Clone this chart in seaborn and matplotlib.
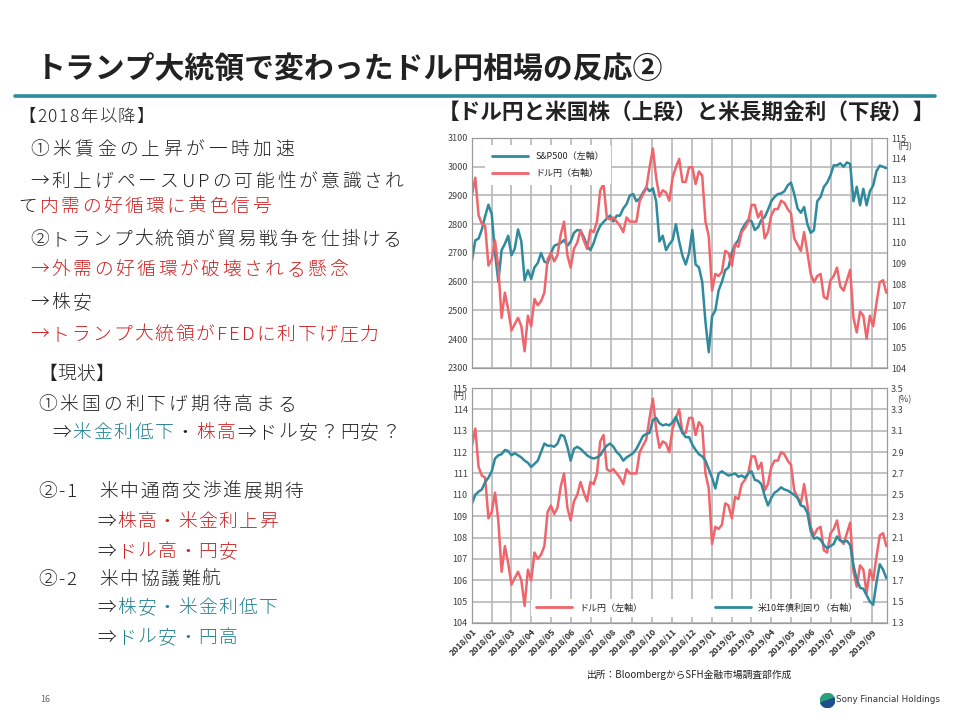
import matplotlib
matplotlib.use('Agg')
import matplotlib.pyplot as plt
from matplotlib.lines import Line2D
from matplotlib.patches import Wedge
import pandas as pd
import seaborn as sns

# --- data (one value every 5 days from 2018/01/01) ---
usdjpy = [
    112.3, 113.1, 111.3, 110.9, 110.8, 108.9, 109.2, 110.1, 108.8, 106.4,
    107.6, 106.8, 105.8, 106.1, 106.4, 106.0, 104.8, 106.5, 106.0, 107.3,
    107.0, 107.2, 107.6, 109.2, 109.5, 109.1, 109.4, 110.4, 111.0, 109.4,
    108.8, 109.7, 110.0, 110.6, 110.1, 109.7, 110.6, 110.5, 111.0, 112.5,
    112.8, 111.2, 111.1, 111.2, 111.0, 110.8, 110.5, 111.2, 111.0, 111.0,
    111.0, 112.0, 112.3, 112.6, 113.6, 114.5, 113.1, 112.2, 112.5, 112.4,
    112.0, 113.1, 113.6, 114.0, 112.9, 112.9, 113.6, 113.6, 112.8, 113.4,
    113.2, 111.0, 110.3, 107.7, 108.5, 108.4, 108.6, 109.6, 109.5, 108.9,
    109.9, 109.8, 110.5, 110.7, 111.0, 111.8, 111.8, 111.2, 111.5, 110.2,
    110.5, 111.3, 111.6, 111.6, 112.0, 111.9, 111.6, 111.4, 110.2, 109.9,
    109.6, 110.5, 109.5, 108.5, 108.1, 108.4, 108.5, 107.4, 107.3, 108.2,
    108.4, 108.8, 107.9, 107.7, 108.2, 108.7, 106.4, 105.7, 106.7, 106.5,
    105.4, 106.5, 106.0, 107.1, 108.1, 108.2, 107.6]

us10y = [
    2.42, 2.50, 2.53, 2.55, 2.62, 2.66, 2.72, 2.84, 2.87, 2.88,
    2.92, 2.91, 2.87, 2.89, 2.87, 2.85, 2.82, 2.80, 2.76, 2.79,
    2.82, 2.90, 2.98, 2.96, 2.96, 2.95, 2.98, 3.06, 3.05, 2.95,
    2.82, 2.93, 2.95, 2.93, 2.90, 2.87, 2.85, 2.84, 2.85, 2.87,
    2.92, 2.96, 2.98, 2.95, 2.90, 2.87, 2.82, 2.85, 2.87, 2.89,
    2.93, 2.99, 3.05, 3.07, 3.08, 3.20, 3.22, 3.17, 3.15, 3.16,
    3.15, 3.18, 3.23, 3.15, 3.08, 3.04, 3.04, 2.97, 2.92, 2.88,
    2.86, 2.82, 2.74, 2.66, 2.56, 2.70, 2.72, 2.70, 2.68, 2.69,
    2.70, 2.67, 2.68, 2.66, 2.70, 2.72, 2.64, 2.63, 2.60, 2.49,
    2.40, 2.47, 2.52, 2.54, 2.57, 2.55, 2.54, 2.52, 2.50, 2.47,
    2.40, 2.39, 2.33, 2.16, 2.09, 2.10, 2.08, 2.03, 2.00, 2.02,
    2.04, 2.11, 2.07, 2.06, 2.07, 2.03, 1.84, 1.71, 1.63, 1.62,
    1.56, 1.50, 1.47, 1.68, 1.85, 1.80, 1.72]

spx = [
    2675, 2744, 2750, 2782, 2828, 2868, 2835, 2700, 2600, 2710,
    2732, 2760, 2692, 2715, 2782, 2740, 2605, 2640, 2610, 2650,
    2665, 2700, 2670, 2665, 2700, 2725, 2730, 2735, 2745, 2725,
    2740, 2770, 2780, 2778, 2755, 2725, 2710, 2735, 2770, 2795,
    2808, 2820, 2830, 2810, 2830, 2830, 2855, 2870, 2900, 2905,
    2880, 2890, 2910, 2928, 2915, 2925, 2880, 2740, 2760, 2710,
    2730, 2745, 2800, 2740, 2690, 2660, 2700, 2780, 2660, 2650,
    2600, 2460, 2355, 2480, 2500, 2570, 2600, 2640, 2650, 2700,
    2730, 2745, 2780, 2800, 2815, 2810, 2780, 2790, 2815, 2825,
    2850, 2880, 2895, 2905, 2907, 2915, 2935, 2945, 2905, 2855,
    2840, 2860, 2800, 2770, 2780, 2880, 2895, 2930, 2945, 2970,
    3005, 3005, 3012, 3000, 3015, 3010, 2880, 2930, 2866, 2923,
    2866, 2915, 2935, 2985, 3004, 3000, 2995]

spx_ticks = [2300, 2400, 2500, 2600, 2700, 2800, 2900, 3000, 3100]
yen_ticks = list(range(104, 116))
yld_ticks = [1.3, 1.5, 1.7, 1.9, 2.1, 2.3, 2.5, 2.7, 2.9, 3.1, 3.3, 3.5]

TEAL = '#2f8a9e'
RED = '#f0656b'
TXT_RED = '#cc2020'
TXT_TEAL = '#1f7f8f'
BLACK = '#222222'

sns.set_style('white')
plt.rcParams['font.family'] = ['Noto Sans CJK JP', 'DejaVu Sans']

dates = pd.date_range('2018-01-01', periods=len(usdjpy), freq='5D')
df = pd.DataFrame({'date': dates, 'spx': spx, 'usdjpy': usdjpy, 'us10y': us10y})
months = pd.date_range('2018-01-01', '2019-09-01', freq='MS')
x0, x1 = pd.Timestamp('2018-01-01'), pd.Timestamp('2019-09-24')

fig = plt.figure(figsize=(9.6, 7.2), dpi=100)

def fx(px):
    return px / 960

def fy(py):
    return 1 - py / 720

# upper: S&P500 (left) + USD/JPY (right)
ax1 = fig.add_axes([fx(472), fy(368), fx(415), 230 / 720])
ax1r = ax1.twinx()
sns.lineplot(data=df, x='date', y='spx', ax=ax1, color=TEAL, lw=1.8)
sns.lineplot(data=df, x='date', y='usdjpy', ax=ax1r, color=RED, lw=1.8)
ax1.set_ylim(2300, 3100)
ax1.set_yticks(spx_ticks)
ax1r.set_ylim(104, 115)
ax1r.set_yticks(yen_ticks)

# lower: USD/JPY (left) + US 10y yield (right)
ax2 = fig.add_axes([fx(472), fy(623), fx(415), 235 / 720])
ax2r = ax2.twinx()
sns.lineplot(data=df, x='date', y='usdjpy', ax=ax2, color=RED, lw=1.8)
sns.lineplot(data=df, x='date', y='us10y', ax=ax2r, color=TEAL, lw=1.8)
ax2.set_ylim(104, 115)
ax2.set_yticks(yen_ticks)
ax2r.set_ylim(1.3, 3.5)
ax2r.set_yticks(yld_ticks)
ax2r.set_yticklabels([f'{v:.1f}' for v in yld_ticks])

for ax in (ax1, ax2, ax1r, ax2r):
    ax.set_xlim(x0, x1)
    ax.set_xticks(months)
    ax.set_xlabel('')
    ax.set_ylabel('')
    ax.tick_params(length=0, labelsize=6.5, colors='#404040', pad=3)
    for s in ax.spines.values():
        s.set_color('#9a9a9a')
        s.set_linewidth(0.8)
for ax in (ax1, ax2):
    ax.grid(True, color='#b8b8b8', lw=1.2)
    ax.set_axisbelow(True)
ax1.set_xticklabels([])
ax2.set_xticklabels([d.strftime('%Y/%m') for d in months], rotation=45,
                    ha='right', rotation_mode='anchor', fontsize=6.3,
                    fontweight='bold', color='#333333')

fig.text(fx(897), fy(147), '(円)', fontsize=6.5, color='#404040', va='center')
fig.text(fx(452), fy(397), '(円)', fontsize=6.5, color='#404040', va='center')
fig.text(fx(897), fy(400), '(%)', fontsize=6.5, color='#404040', va='center')

h_teal = Line2D([], [], color=TEAL, lw=2)
h_red = Line2D([], [], color=RED, lw=2)
lg1 = ax1r.legend([h_teal, h_red], ['S&P500（左軸）', 'ドル円（右軸）'],
                  loc='upper left', bbox_to_anchor=(fx(480), fy(140)),
                  bbox_transform=fig.transFigure, fontsize=6.5, handlelength=4,
                  labelspacing=0.9, frameon=True, facecolor='white',
                  edgecolor='none', framealpha=1, borderpad=0.8)
lg2 = ax2r.legend([h_red, h_teal], ['ドル円（左軸）', '米10年債利回り（右軸）'],
                  loc='center', bbox_to_anchor=(fx(697), fy(608)), ncol=2,
                  bbox_transform=fig.transFigure, fontsize=6.5, handlelength=4,
                  columnspacing=8, frameon=True, facecolor='white',
                  edgecolor='none', framealpha=1, borderpad=0.5)

fig.text(fx(690), fy(675), '出所：BloombergからSFH金融市場調査部作成',
         fontsize=7, ha='center', va='center', color=BLACK)

# titles
fig.text(fx(36), fy(70), 'トランプ大統領で変わったドル円相場の反応②', fontsize=21.5,
         fontweight='bold', color=BLACK, va='center')
fig.add_artist(Line2D([fx(15), fx(935)], [fy(96), fy(96)], color='#2e8b9b',
                      lw=2.6, transform=fig.transFigure))
fig.text(fx(438), fy(112), '【ドル円と米国株（上段）と米長期金利（下段）】',
         fontsize=15.6, fontweight='bold', color=BLACK, va='center')

# left text block (drawn char by char for the wide letter spacing of the slide)
renderer = fig.canvas.get_renderer()

def put(x, y, parts, size=13.5, track=2.6):
    for s, c in parts:
        for ch in s:
            t = fig.text(fx(x), fy(y), ch, color=c, fontsize=size, va='center',
                         ha='left', fontweight='light')
            x += t.get_window_extent(renderer).width + track

put(18, 117, [('【2018年以降】', BLACK)], size=12.5, track=1.5)
put(30, 150, [('①米賃金の上昇が一時加速', BLACK)], track=3.5)
put(30, 182, [('→利上げペースUPの可能性が意識され', BLACK)], track=2.9)
put(18, 207, [('て', BLACK), ('内需の好循環に黄色信号', TXT_RED)], track=2.5)
put(30, 240, [('②トランプ大統領が貿易戦争を仕掛ける', BLACK)], track=2.0)
put(30, 270, [('→外需の好循環が破壊される懸念', TXT_RED)], track=2.6)
put(30, 303, [('→株安', BLACK)], track=2.6)
put(30, 335, [('→トランプ大統領がFEDに利下げ圧力', TXT_RED)], track=2.0)

put(38, 375, [('【現状】', BLACK)], track=0.5)
put(38, 405, [('①米国の利下げ期待高まる', BLACK)], track=3.0)
put(52, 433, [('⇒', BLACK), ('米金利低下', TXT_TEAL), ('・', BLACK),
              ('株高', TXT_RED), ('⇒ドル安？円安？', BLACK)], track=1.8)
put(38, 492, [('②-1　米中通商交渉進展期待', BLACK)], track=1.8)
put(97, 522, [('⇒', BLACK), ('株高・米金利上昇', TXT_RED)], track=1.5)
put(97, 552, [('⇒', BLACK), ('ドル高・円安', TXT_RED)], track=1.5)
put(38, 580, [('②-2　米中協議難航', BLACK)], track=1.8)
put(97, 608, [('⇒', BLACK), ('株安・米金利低下', TXT_TEAL)], track=1.5)
put(97, 638, [('⇒', BLACK), ('ドル安・円高', TXT_TEAL)], track=1.5)

fig.text(fx(40), fy(700), '16', fontsize=6.5, color='#666666', va='center')

# logo
logo_ax = fig.add_axes([fx(820), fy(708), fx(15), 15 / 720])
logo_ax.set_xlim(-1, 1)
logo_ax.set_ylim(-1, 1)
logo_ax.set_aspect('equal')
logo_ax.axis('off')
logo_ax.add_patch(Wedge((0, 0), 0.95, 20, 200, color='#2aa07a'))
logo_ax.add_patch(Wedge((0, 0), 0.95, 200, 380, color='#1e4f8a'))
fig.text(fx(836), fy(700), 'Sony Financial Holdings', fontsize=6.3, color='#333333',
         va='center', family=['Liberation Sans Narrow', 'DejaVu Sans'])

fig.savefig('out.png', dpi=100)
